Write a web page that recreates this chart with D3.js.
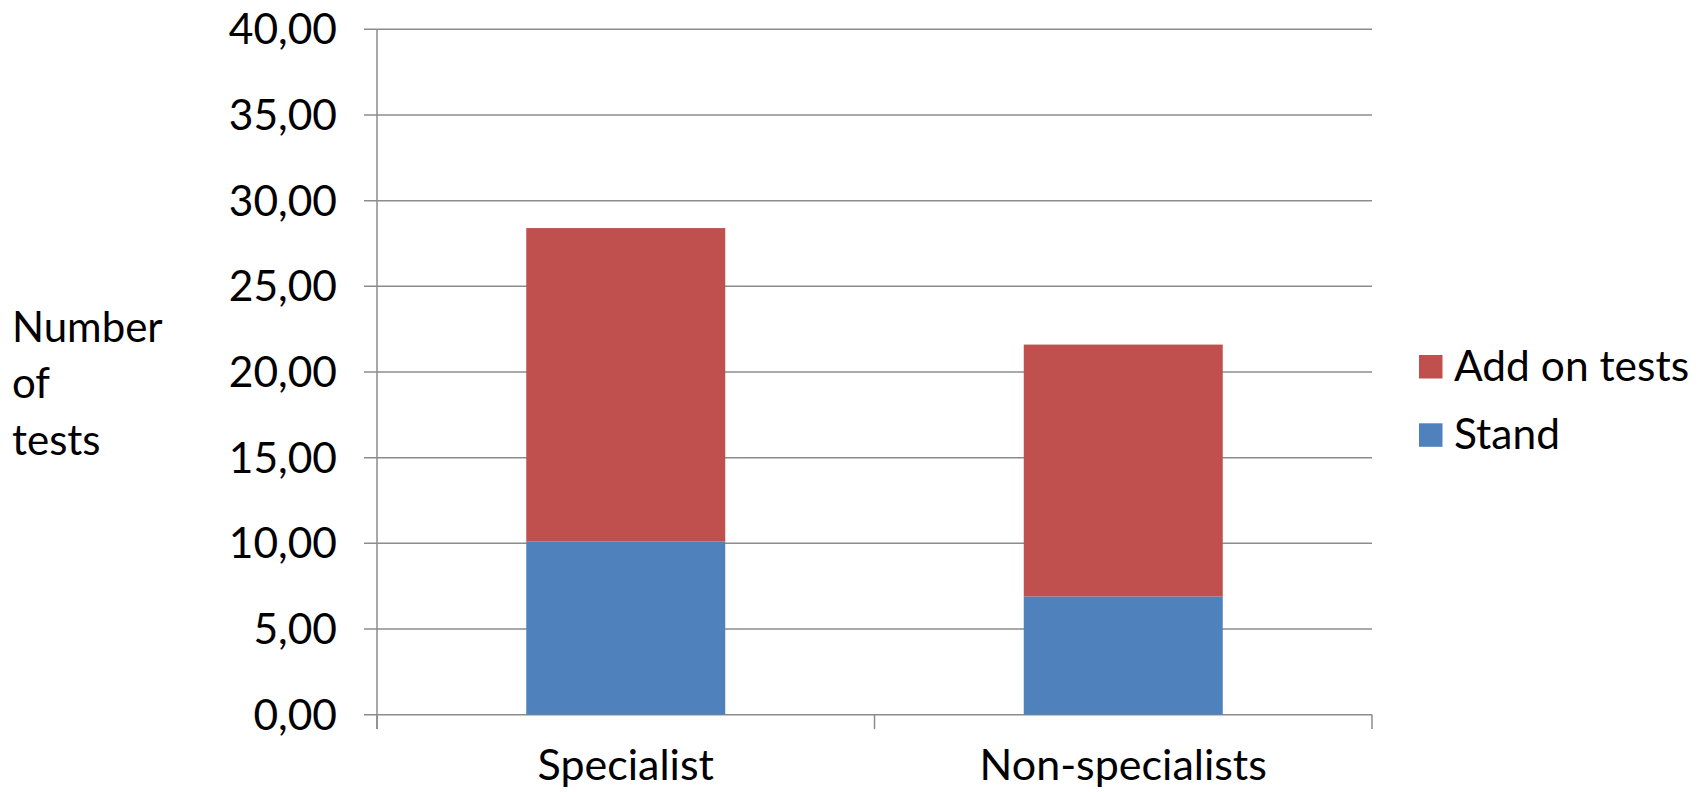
<!DOCTYPE html>
<html><head><meta charset="utf-8">
<script src="https://cdn.jsdelivr.net/npm/d3@7"></script>
<style>body{margin:0;background:#fff}svg{display:block}text{font-family:Lato,"Noto Sans",sans-serif;fill:#000}</style>
</head><body>
<script>
const categories = ["Specialist", "Non-specialists"];
const standValues = [10.1, 6.9];
const addOnValues = [18.3, 14.7];
const seriesNames = ["Stand", "Add on tests"];
const yTicks = [0, 5, 10, 15, 20, 25, 30, 35, 40];
const yTitleLines = ["Number", "of", "tests"];
const colors = {"Stand": "#4F81BD", "Add on tests": "#C0504D"};

const W = 1707, H = 792;
const svg = d3.select("body").append("svg").attr("width", W).attr("height", H);

const x = d3.scaleBand().domain(categories).range([377, 1372]).paddingInner(0.6).paddingOuter(0.3);
const xEdges = d3.scaleBand().domain(categories).range([377, 1372]).padding(0);
const y = d3.scaleLinear().domain([0, 40]).range([714.7, 29.3]);

const fmt = v => d3.format(".2f")(v).replace(".", ",");

// gridlines
svg.append("g").selectAll("line").data(yTicks).join("line")
  .attr("x1", 364).attr("x2", 1372)
  .attr("y1", d => y(d)).attr("y2", d => y(d))
  .attr("stroke", "#8c8c8c").attr("stroke-width", 1.5);

// y tick labels
svg.append("g").selectAll("text").data(yTicks).join("text")
  .attr("x", 337).attr("y", d => y(d)).attr("dy", "0.35em")
  .attr("text-anchor", "end").style("font-size", "42.5px")
  .text(d => fmt(d));

// stacked data
const table = categories.map((c, i) => ({cat: c, "Stand": standValues[i], "Add on tests": addOnValues[i]}));
const stack = d3.stack().keys(seriesNames)(table);

svg.append("g").selectAll("g").data(stack).join("g")
  .attr("fill", d => colors[d.key])
  .selectAll("rect").data(d => d).join("rect")
  .attr("x", d => x(d.data.cat)).attr("width", x.bandwidth())
  .attr("y", d => y(d[1])).attr("height", d => y(d[0]) - y(d[1]));

// axes lines
svg.append("line").attr("x1", 377).attr("x2", 377).attr("y1", y(40)).attr("y2", 729)
  .attr("stroke", "#8c8c8c").attr("stroke-width", 1.5);
const xTickPos = categories.map(c => xEdges(c)).concat([xEdges(categories[categories.length-1]) + xEdges.bandwidth()]);
svg.append("g").selectAll("line").data(xTickPos).join("line")
  .attr("x1", d => d).attr("x2", d => d).attr("y1", y(0)).attr("y2", 729)
  .attr("stroke", "#8c8c8c").attr("stroke-width", 1.5);

// category labels
svg.append("g").selectAll("text").data(categories).join("text")
  .attr("x", d => x(d) + x.bandwidth() / 2).attr("y", 780)
  .attr("text-anchor", "middle").style("font-size", "43px")
  .text(d => d);

// y title
svg.append("g").selectAll("text").data(yTitleLines).join("text")
  .attr("x", 12).attr("y", (d, i) => 341.7 + i * 56.7)
  .style("font-size", "42px").text(d => d);

// legend
const legendItems = ["Add on tests", "Stand"];
const lg = svg.append("g").selectAll("g").data(legendItems).join("g")
  .attr("transform", (d, i) => `translate(1419,${355 + i * 68.3})`);
lg.append("rect").attr("width", 23.5).attr("height", 23.5).attr("fill", d => colors[d]);
lg.append("text").attr("x", 35).attr("y", 25.5).style("font-size", "42.5px").text(d => d);
</script>
</body></html>
